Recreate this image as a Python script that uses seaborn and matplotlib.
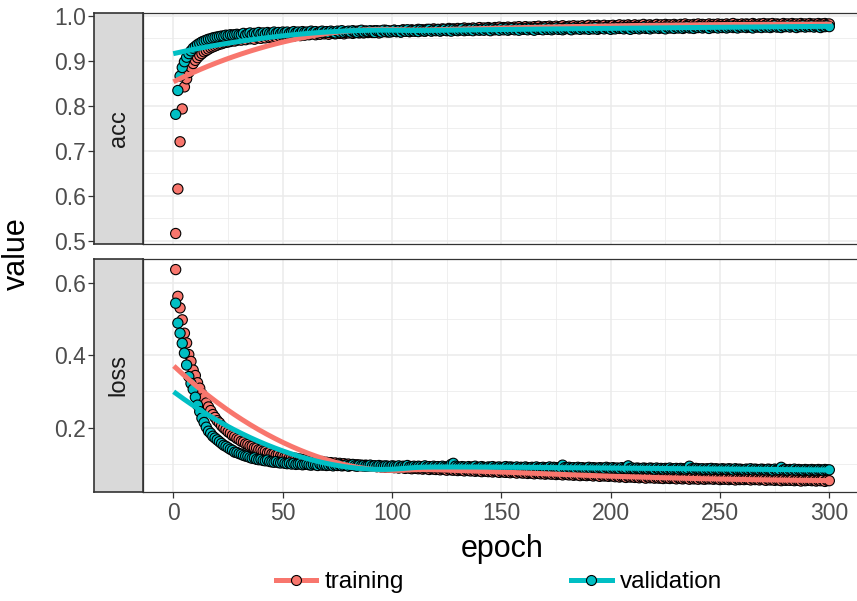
import numpy as np
import pandas as pd
import matplotlib
matplotlib.use("Agg")
import matplotlib.pyplot as plt
import seaborn as sns
from matplotlib.lines import Line2D

# ---- training history (300 epochs) ----
epochs = list(range(1, 301))

train_acc = [
    0.516, 0.615, 0.720, 0.793, 0.842, 0.860, 0.874, 0.886, 0.894, 0.901,
    0.907, 0.912, 0.916, 0.920, 0.923, 0.926, 0.929, 0.931, 0.933, 0.935,
    0.937, 0.938, 0.940, 0.941, 0.942, 0.943, 0.945, 0.944, 0.946, 0.947,
    0.946, 0.950, 0.947, 0.951, 0.949, 0.952, 0.948, 0.953, 0.951, 0.950,
    0.954, 0.951, 0.955, 0.952, 0.953, 0.956, 0.953, 0.957, 0.954, 0.956,
    0.958, 0.955, 0.957, 0.959, 0.955, 0.958, 0.960, 0.956, 0.959, 0.957,
    0.961, 0.958, 0.960, 0.962, 0.958, 0.961, 0.959, 0.963, 0.960, 0.962,
    0.959, 0.963, 0.961, 0.960, 0.964, 0.961, 0.963, 0.960, 0.964, 0.962,
    0.965, 0.961, 0.963, 0.966, 0.962, 0.964, 0.962, 0.966, 0.963, 0.965,
    0.963, 0.967, 0.964, 0.962, 0.966, 0.965, 0.968, 0.964, 0.966, 0.965,
    0.968, 0.965, 0.967, 0.964, 0.969, 0.966, 0.968, 0.965, 0.969, 0.967,
    0.966, 0.970, 0.967, 0.969, 0.966, 0.970, 0.968, 0.967, 0.971, 0.968,
    0.970, 0.967, 0.971, 0.969, 0.968, 0.972, 0.969, 0.971, 0.968, 0.972,
    0.969, 0.971, 0.973, 0.969, 0.972, 0.970, 0.973, 0.970, 0.972, 0.974,
    0.970, 0.973, 0.971, 0.974, 0.972, 0.970, 0.974, 0.972, 0.975, 0.971,
    0.974, 0.972, 0.975, 0.973, 0.971, 0.975, 0.973, 0.976, 0.972, 0.974,
    0.976, 0.973, 0.975, 0.972, 0.976, 0.974, 0.977, 0.973, 0.975, 0.976,
    0.973, 0.977, 0.975, 0.974, 0.977, 0.974, 0.976, 0.978, 0.974, 0.976,
    0.977, 0.975, 0.978, 0.974, 0.977, 0.976, 0.978, 0.975, 0.977, 0.979,
    0.975, 0.978, 0.976, 0.979, 0.976, 0.977, 0.979, 0.975, 0.978, 0.977,
    0.979, 0.976, 0.978, 0.980, 0.976, 0.979, 0.977, 0.980, 0.978, 0.977,
    0.980, 0.977, 0.979, 0.978, 0.981, 0.977, 0.979, 0.980, 0.978, 0.979,
    0.981, 0.978, 0.980, 0.977, 0.981, 0.979, 0.980, 0.978, 0.981, 0.979,
    0.978, 0.981, 0.979, 0.982, 0.979, 0.980, 0.978, 0.981, 0.980, 0.982,
    0.979, 0.981, 0.980, 0.978, 0.982, 0.980, 0.981, 0.979, 0.982, 0.980,
    0.981, 0.979, 0.982, 0.980, 0.981, 0.983, 0.979, 0.981, 0.980, 0.982,
    0.980, 0.982, 0.981, 0.979, 0.983, 0.981, 0.980, 0.982, 0.981, 0.983,
    0.980, 0.982, 0.981, 0.983, 0.980, 0.982, 0.981, 0.979, 0.983, 0.981,
    0.982, 0.980, 0.983, 0.981, 0.982, 0.980, 0.983, 0.981, 0.982, 0.980,
    0.983, 0.981, 0.982, 0.980, 0.983, 0.981, 0.982, 0.983, 0.981, 0.982,
]

val_acc = [
    0.781, 0.834, 0.866, 0.885, 0.898, 0.908, 0.916, 0.922, 0.928, 0.932,
    0.936, 0.939, 0.942, 0.944, 0.946, 0.948, 0.949, 0.951, 0.952, 0.953,
    0.954, 0.955, 0.955, 0.957, 0.956, 0.958, 0.957, 0.958, 0.959, 0.958,
    0.958, 0.961, 0.957, 0.960, 0.962, 0.958, 0.961, 0.959, 0.963, 0.960,
    0.962, 0.959, 0.963, 0.961, 0.960, 0.964, 0.961, 0.963, 0.960, 0.964,
    0.962, 0.964, 0.961, 0.963, 0.965, 0.962, 0.964, 0.961, 0.965, 0.963,
    0.964, 0.962, 0.966, 0.963, 0.965, 0.962, 0.964, 0.966, 0.963, 0.965,
    0.963, 0.966, 0.964, 0.962, 0.966, 0.964, 0.967, 0.963, 0.965, 0.966,
    0.964, 0.967, 0.965, 0.963, 0.966, 0.968, 0.964, 0.966, 0.965, 0.967,
    0.965, 0.963, 0.967, 0.966, 0.964, 0.968, 0.965, 0.967, 0.964, 0.966,
    0.968, 0.965, 0.967, 0.964, 0.968, 0.966, 0.969, 0.965, 0.967, 0.966,
    0.968, 0.965, 0.969, 0.967, 0.966, 0.968, 0.970, 0.966, 0.968, 0.967,
    0.969, 0.966, 0.968, 0.970, 0.967, 0.969, 0.966, 0.970, 0.968, 0.967,
    0.969, 0.971, 0.967, 0.969, 0.968, 0.970, 0.967, 0.971, 0.969, 0.968,
    0.970, 0.968, 0.971, 0.969, 0.967, 0.971, 0.969, 0.970, 0.968, 0.972,
    0.969, 0.971, 0.968, 0.970, 0.972, 0.969, 0.971, 0.968, 0.972, 0.970,
    0.971, 0.969, 0.972, 0.970, 0.968, 0.972, 0.970, 0.971, 0.969, 0.973,
    0.970, 0.972, 0.969, 0.971, 0.973, 0.970, 0.972, 0.969, 0.971, 0.973,
    0.971, 0.969, 0.973, 0.971, 0.972, 0.970, 0.973, 0.971, 0.972, 0.970,
    0.973, 0.971, 0.974, 0.970, 0.972, 0.973, 0.971, 0.974, 0.972, 0.970,
    0.973, 0.971, 0.974, 0.972, 0.973, 0.971, 0.974, 0.972, 0.970, 0.974,
    0.972, 0.974, 0.971, 0.973, 0.975, 0.972, 0.973, 0.971, 0.974, 0.973,
    0.975, 0.972, 0.974, 0.973, 0.971, 0.975, 0.973, 0.974, 0.972, 0.975,
    0.973, 0.975, 0.972, 0.974, 0.976, 0.973, 0.974, 0.972, 0.975, 0.974,
    0.976, 0.973, 0.975, 0.974, 0.972, 0.976, 0.974, 0.975, 0.973, 0.976,
    0.974, 0.976, 0.973, 0.975, 0.977, 0.974, 0.975, 0.973, 0.976, 0.975,
    0.977, 0.974, 0.976, 0.975, 0.973, 0.977, 0.975, 0.976, 0.974, 0.977,
    0.975, 0.977, 0.974, 0.976, 0.978, 0.975, 0.976, 0.974, 0.977, 0.976,
    0.978, 0.975, 0.977, 0.976, 0.974, 0.977, 0.976, 0.978, 0.975, 0.977,
    0.976, 0.978, 0.975, 0.977, 0.976, 0.974, 0.977, 0.976, 0.978, 0.976,
]

train_loss = [
    0.637, 0.563, 0.531, 0.498, 0.461, 0.434, 0.402, 0.383, 0.359, 0.344,
    0.324, 0.309, 0.293, 0.282, 0.268, 0.257, 0.247, 0.236, 0.228, 0.219,
    0.213, 0.205, 0.199, 0.194, 0.188, 0.184, 0.178, 0.175, 0.170, 0.167,
    0.162, 0.160, 0.155, 0.153, 0.149, 0.148, 0.144, 0.143, 0.139, 0.138,
    0.135, 0.134, 0.130, 0.131, 0.127, 0.127, 0.124, 0.125, 0.121, 0.122,
    0.119, 0.120, 0.116, 0.117, 0.115, 0.115, 0.112, 0.113, 0.110, 0.112,
    0.108, 0.110, 0.107, 0.108, 0.106, 0.107, 0.104, 0.106, 0.103, 0.104,
    0.102, 0.103, 0.100, 0.102, 0.099, 0.101, 0.098, 0.100, 0.097, 0.099,
    0.096, 0.098, 0.096, 0.097, 0.095, 0.096, 0.094, 0.096, 0.093, 0.095,
    0.093, 0.094, 0.092, 0.093, 0.091, 0.093, 0.090, 0.092, 0.090, 0.091,
    0.089, 0.091, 0.088, 0.090, 0.089, 0.087, 0.089, 0.088, 0.086, 0.088,
    0.087, 0.086, 0.088, 0.085, 0.087, 0.086, 0.084, 0.087, 0.085, 0.084,
    0.086, 0.083, 0.085, 0.084, 0.082, 0.085, 0.083, 0.082, 0.084, 0.081,
    0.083, 0.082, 0.080, 0.083, 0.081, 0.080, 0.082, 0.079, 0.081, 0.080,
    0.078, 0.081, 0.079, 0.078, 0.080, 0.077, 0.079, 0.078, 0.076, 0.079,
    0.077, 0.076, 0.078, 0.075, 0.077, 0.076, 0.074, 0.077, 0.075, 0.074,
    0.076, 0.073, 0.075, 0.074, 0.072, 0.075, 0.073, 0.072, 0.074, 0.071,
    0.073, 0.072, 0.071, 0.073, 0.070, 0.072, 0.071, 0.069, 0.072, 0.070,
    0.069, 0.071, 0.068, 0.070, 0.069, 0.067, 0.070, 0.068, 0.067, 0.069,
    0.068, 0.066, 0.068, 0.067, 0.065, 0.068, 0.066, 0.067, 0.065, 0.067,
    0.066, 0.064, 0.066, 0.063, 0.065, 0.064, 0.062, 0.065, 0.063, 0.064,
    0.062, 0.064, 0.061, 0.063, 0.062, 0.060, 0.063, 0.061, 0.062, 0.060,
    0.062, 0.060, 0.061, 0.059, 0.062, 0.060, 0.059, 0.061, 0.060, 0.058,
    0.061, 0.059, 0.058, 0.060, 0.059, 0.057, 0.060, 0.058, 0.059, 0.057,
    0.060, 0.058, 0.057, 0.059, 0.058, 0.059, 0.057, 0.059, 0.058, 0.056,
    0.058, 0.057, 0.059, 0.056, 0.058, 0.057, 0.055, 0.058, 0.056, 0.057,
    0.056, 0.058, 0.057, 0.055, 0.058, 0.056, 0.057, 0.055, 0.057, 0.056,
    0.054, 0.057, 0.055, 0.056, 0.054, 0.056, 0.055, 0.053, 0.056, 0.054,
    0.055, 0.054, 0.056, 0.053, 0.055, 0.054, 0.052, 0.055, 0.053, 0.054,
    0.055, 0.053, 0.054, 0.052, 0.054, 0.053, 0.055, 0.051, 0.054, 0.053,
]

val_loss = [
    0.544, 0.489, 0.461, 0.433, 0.406, 0.373, 0.341, 0.322, 0.306, 0.284,
    0.262, 0.244, 0.226, 0.214, 0.201, 0.190, 0.184, 0.176, 0.171, 0.166,
    0.161, 0.156, 0.151, 0.148, 0.144, 0.140, 0.137, 0.132, 0.131, 0.128,
    0.126, 0.123, 0.121, 0.120, 0.117, 0.115, 0.116, 0.112, 0.111, 0.112,
    0.109, 0.108, 0.110, 0.106, 0.105, 0.104, 0.106, 0.103, 0.102, 0.104,
    0.101, 0.100, 0.102, 0.099, 0.101, 0.098, 0.099, 0.100, 0.097, 0.098,
    0.099, 0.097, 0.096, 0.098, 0.097, 0.095, 0.099, 0.096, 0.097, 0.095,
    0.096, 0.098, 0.094, 0.096, 0.095, 0.097, 0.094, 0.095, 0.096, 0.093,
    0.095, 0.097, 0.094, 0.093, 0.096, 0.094, 0.095, 0.093, 0.094, 0.096,
    0.093, 0.094, 0.092, 0.095, 0.093, 0.092, 0.094, 0.093, 0.091, 0.094,
    0.093, 0.092, 0.094, 0.091, 0.093, 0.092, 0.095, 0.091, 0.092, 0.093,
    0.091, 0.093, 0.092, 0.090, 0.094, 0.091, 0.092, 0.090, 0.093, 0.091,
    0.092, 0.090, 0.093, 0.091, 0.090, 0.092, 0.098, 0.101, 0.093, 0.091,
    0.090, 0.092, 0.091, 0.089, 0.092, 0.090, 0.091, 0.093, 0.089, 0.090,
    0.092, 0.090, 0.089, 0.091, 0.090, 0.092, 0.089, 0.090, 0.091, 0.089,
    0.090, 0.092, 0.089, 0.091, 0.090, 0.089, 0.091, 0.088, 0.090, 0.089,
    0.091, 0.089, 0.088, 0.090, 0.089, 0.091, 0.088, 0.089, 0.090, 0.088,
    0.089, 0.091, 0.088, 0.090, 0.089, 0.088, 0.090, 0.096, 0.089, 0.088,
    0.090, 0.088, 0.089, 0.087, 0.090, 0.088, 0.089, 0.087, 0.088, 0.090,
    0.087, 0.089, 0.088, 0.087, 0.089, 0.088, 0.087, 0.090, 0.088, 0.087,
    0.089, 0.087, 0.088, 0.086, 0.089, 0.087, 0.088, 0.094, 0.087, 0.088,
    0.086, 0.088, 0.087, 0.086, 0.088, 0.087, 0.086, 0.088, 0.087, 0.085,
    0.088, 0.086, 0.087, 0.085, 0.087, 0.086, 0.088, 0.085, 0.086, 0.087,
    0.085, 0.087, 0.086, 0.085, 0.087, 0.093, 0.086, 0.085, 0.087, 0.086,
    0.085, 0.086, 0.084, 0.086, 0.085, 0.087, 0.084, 0.086, 0.085, 0.084,
    0.086, 0.085, 0.084, 0.086, 0.085, 0.083, 0.086, 0.084, 0.085, 0.084,
    0.083, 0.085, 0.084, 0.086, 0.083, 0.085, 0.084, 0.083, 0.085, 0.084,
    0.083, 0.085, 0.084, 0.082, 0.085, 0.083, 0.084, 0.090, 0.083, 0.084,
    0.082, 0.084, 0.083, 0.085, 0.082, 0.084, 0.083, 0.082, 0.084, 0.083,
    0.082, 0.084, 0.083, 0.082, 0.084, 0.083, 0.082, 0.084, 0.083, 0.083,
]

metrics = ["acc", "loss"]
series = ["training", "validation"]
colors = {"training": "#F8766D", "validation": "#00BFC4"}

x_ticks = [0, 50, 100, 150, 200, 250, 300]
y_ticks = {"acc": [0.5, 0.6, 0.7, 0.8, 0.9, 1.0], "loss": [0.2, 0.4, 0.6]}
y_minor = {"acc": [0.55, 0.65, 0.75, 0.85, 0.95], "loss": [0.1, 0.3, 0.5]}

values = {
    ("acc", "training"): train_acc,
    ("acc", "validation"): val_acc,
    ("loss", "training"): train_loss,
    ("loss", "validation"): val_loss,
}

frames = []
for m in metrics:
    for s in series:
        frames.append(pd.DataFrame({"epoch": epochs, "value": values[(m, s)],
                                    "metric": m, "data": s}))
df = pd.concat(frames, ignore_index=True)


def loess(x, y, span=0.75, n_out=80):
    """Local quadratic regression with tricube weights."""
    x = np.asarray(x, float)
    y = np.asarray(y, float)
    n = len(x)
    q = int(np.floor(n * span))
    grid = np.linspace(x.min(), x.max(), n_out)
    fit = []
    for x0 in grid:
        d = np.abs(x - x0)
        h = np.sort(d)[q - 1]
        w = np.clip(1 - (d / h) ** 3, 0, None) ** 3
        X = np.column_stack([np.ones(n), x - x0, (x - x0) ** 2])
        sw = np.sqrt(w)
        beta = np.linalg.lstsq(X * sw[:, None], y * sw, rcond=None)[0]
        fit.append(beta[0])
    return grid, np.array(fit)


smooth_frames = []
for m in metrics:
    for s in series:
        sub = df[(df.metric == m) & (df.data == s)]
        gx, gy = loess(sub.epoch, sub.value)
        smooth_frames.append(pd.DataFrame({"epoch": gx, "value": gy, "metric": m, "data": s}))
smooth = pd.concat(smooth_frames, ignore_index=True)

# ---- figure ----
plt.rcParams["font.family"] = ["Liberation Sans", "DejaVu Sans"]
W, H = 857, 601
fig = plt.figure(figsize=(W / 100, H / 100), dpi=100)

dark = "#333333"
grid_c = "#EBEBEB"
tick_c = "#4D4D4D"
tick_fs = 16.5

panel_left, panel_right = 143, 862
strip_left = 94
panels = {"acc": (13, 244), "loss": (259, 492)}

x_lim = (1 - 0.05 * 299, 300 + 0.05 * 299)

for i, m in enumerate(metrics):
    top, bot = panels[m]
    ax = fig.add_axes([panel_left / W, (H - bot) / H,
                       (panel_right - panel_left) / W, (bot - top) / H])
    sax = fig.add_axes([strip_left / W, (H - bot) / H,
                        (panel_left - strip_left) / W, (bot - top) / H], sharey=ax)

    sub = df[df.metric == m]
    sm = smooth[smooth.metric == m]

    sns.scatterplot(data=sub, x="epoch", y="value", hue="data", palette=colors,
                    hue_order=series, s=54, edgecolor="black", linewidth=0.8,
                    legend=False, ax=ax, zorder=3)
    sns.lineplot(data=sm, x="epoch", y="value", hue="data", palette=colors,
                 hue_order=series, linewidth=3.6, legend=False, ax=ax, zorder=4,
                 estimator=None, sort=True)

    vmin, vmax = sub.value.min(), sub.value.max()
    pad = 0.05 * (vmax - vmin)
    ax.set_xlim(*x_lim)
    ax.set_ylim(vmin - pad, vmax + pad)

    ax.set_xticks(x_ticks)
    ax.set_xticks([25, 75, 125, 175, 225, 275], minor=True)
    ax.set_yticks(y_ticks[m])
    ax.set_yticks(y_minor[m], minor=True)
    ax.grid(True, which="major", color=grid_c, linewidth=1.1, zorder=0)
    ax.grid(True, which="minor", color=grid_c, linewidth=0.55, zorder=0)
    ax.set_axisbelow(True)
    ax.set_facecolor("white")
    for sp in ax.spines.values():
        sp.set_color(dark)
        sp.set_linewidth(0.9)
    ax.tick_params(axis="y", which="both", length=0, labelleft=False)
    ax.tick_params(axis="x", which="minor", length=0)
    ax.set_xlabel("")
    ax.set_ylabel("")
    if i == len(metrics) - 1:
        ax.tick_params(axis="x", which="major", direction="out", length=4, width=0.9,
                       color=dark, labelsize=tick_fs, labelcolor=tick_c, pad=3)
    else:
        ax.tick_params(axis="x", which="major", length=0, labelbottom=False)

    # facet strip with the y axis on its outer side
    sax.set_facecolor("#D9D9D9")
    for sp in sax.spines.values():
        sp.set_color(dark)
        sp.set_linewidth(1.2)
    sax.tick_params(axis="x", length=0, labelbottom=False)
    sax.tick_params(axis="y", which="major", direction="out", length=4, width=0.9,
                    color=dark, labelsize=tick_fs, labelcolor=tick_c, pad=2, labelleft=True)
    sax.tick_params(axis="y", which="minor", length=0)
    sax.text(0.5, 0.5, m, rotation=90, ha="center", va="center",
             transform=sax.transAxes, fontsize=17, color="#1A1A1A")
    sax.set_xlabel("")
    sax.set_ylabel("")

fig.text(17 / W, 1 - 254 / H, "value", rotation=90, ha="center", va="center",
         fontsize=22, color="black")
fig.text(502 / W, 1 - 549 / H, "epoch", ha="center", va="center",
         fontsize=22, color="black")

handles = [Line2D([0], [0], color=colors[s], linewidth=3.6, marker="o", markersize=7.2,
                  markerfacecolor=colors[s], markeredgecolor="black", markeredgewidth=0.8)
           for s in series]
fig.legend(handles, series, loc="center", bbox_to_anchor=(499 / W, 1 - 582 / H),
           ncol=2, frameon=False, fontsize=17.5, handlelength=1.65, handletextpad=0.35,
           columnspacing=6.9)

fig.savefig("out.png", dpi=100, facecolor="white")
